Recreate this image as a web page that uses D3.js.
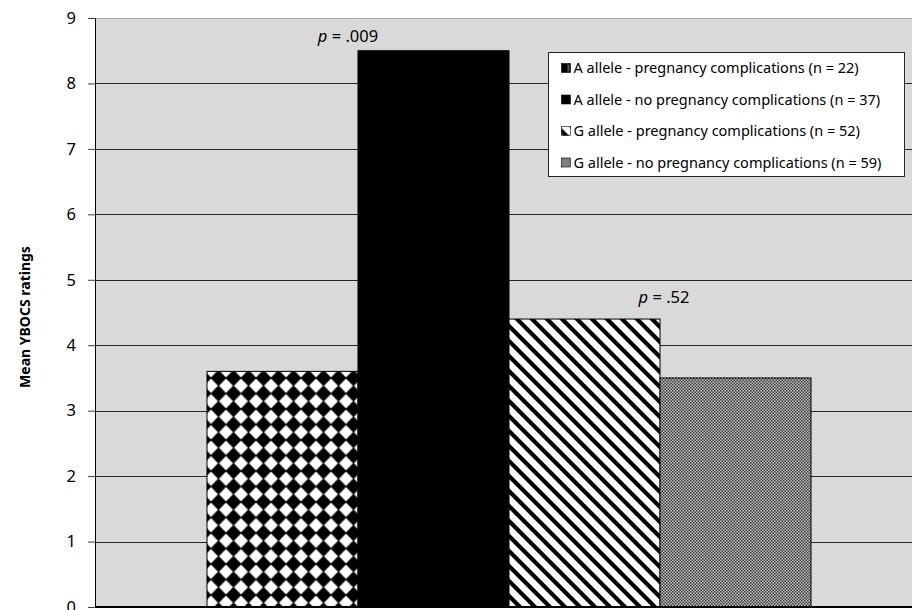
<!DOCTYPE html>
<html>
<head>
<meta charset="utf-8">
<script src="https://cdn.jsdelivr.net/npm/d3@7"></script>
<style>
  body { margin: 0; background: #fff; }
  svg { display: block; font-family: "Noto Sans", "Open Sans", sans-serif; }
</style>
</head>
<body>
<div class="canvas"></div>
<script>
const series = [
  "A allele - pregnancy complications",
  "A allele - no pregnancy complications",
  "G allele - pregnancy complications",
  "G allele - no pregnancy complications"
];
const counts = [22, 37, 52, 59];
const values = [3.6, 8.5, 4.4, 3.5];
const yTicks = [0, 1, 2, 3, 4, 5, 6, 7, 8, 9];
const pLabels = [".009", ".52"];
const pPairs = [0, 2]; // the bar pair each p value sits over
const pLevels = [8.64, 4.65];

const fills = ["url(#diamonds)", "#000000", "url(#stripes)", "url(#checks)"];

const W = 912, H = 610;
const margin = { top: 18, right: 0, bottom: 3, left: 96 };
const width = W - margin.left - margin.right;
const height = H - margin.top - margin.bottom;

const svg = d3.select(".canvas").append("svg")
  .attr("width", W)
  .attr("height", H);

// patterns
const defs = svg.append("defs");

const dia = defs.append("pattern")
  .attr("id", "diamonds")
  .attr("patternUnits", "userSpaceOnUse")
  .attr("x", 212.5).attr("y", 375.5)
  .attr("width", 15).attr("height", 15.5);
dia.append("rect").attr("width", 15).attr("height", 15.5).attr("fill", "#000");
dia.append("path")
  .attr("d", "M7.5,0.5 L14.5,7.75 L7.5,15 L0.5,7.75 Z")
  .attr("fill", "#fff");

const str = defs.append("pattern")
  .attr("id", "stripes")
  .attr("patternUnits", "userSpaceOnUse")
  .attr("width", 15).attr("height", 15);
str.append("rect").attr("width", 15).attr("height", 15).attr("fill", "#fff");
str.append("path")
  .attr("d", "M-4,-4 L19,19 M-4,11 L4,19 M11,-4 L19,4")
  .attr("stroke", "#000")
  .attr("stroke-width", 4.2);

const chk = defs.append("pattern")
  .attr("id", "checks")
  .attr("patternUnits", "userSpaceOnUse")
  .attr("width", 3).attr("height", 3);
chk.append("rect").attr("width", 3).attr("height", 3).attr("fill", "#c8c8c8");
chk.append("rect").attr("width", 1.5).attr("height", 1.5).attr("fill", "#333");
chk.append("rect").attr("x", 1.5).attr("y", 1.5).attr("width", 1.5).attr("height", 1.5).attr("fill", "#333");

const chart = svg.append("g")
  .attr("transform", `translate(${margin.left}, ${margin.top})`);

const y = d3.scaleLinear().domain([0, 9]).range([height, 0]);
const x = d3.scaleBand()
  .domain(series)
  .range([0, 826])
  .paddingInner(0)
  .paddingOuter(0.735);

// plot background
chart.append("rect")
  .attr("width", width)
  .attr("height", height)
  .attr("fill", "#d9d9d9");

// gridlines
chart.append("g")
  .selectAll("line")
  .data(yTicks.filter((d) => d > 0))
  .enter()
  .append("line")
  .attr("x1", 0)
  .attr("x2", width)
  .attr("y1", (d) => Math.round(y(d)) + 0.5)
  .attr("y2", (d) => Math.round(y(d)) + 0.5)
  .attr("stroke", (d) => (d === 9 ? "#a6a6a6" : "#262626"))
  .attr("stroke-width", 1);

// bars
chart.append("g")
  .selectAll("rect")
  .data(values)
  .enter()
  .append("rect")
  .attr("x", (d, i) => x(series[i]))
  .attr("y", (d) => y(d))
  .attr("width", x.bandwidth())
  .attr("height", (d) => height - y(d))
  .attr("fill", (d, i) => fills[i])
  .attr("stroke", "#000")
  .attr("stroke-width", 1);

// y axis
const yAxis = d3.axisLeft(y).tickValues(yTicks).tickSize(8).tickPadding(12);
const ya = chart.append("g").attr("class", "axis").call(yAxis);
ya.select(".domain").attr("stroke", "#000").attr("d", `M-0.5,${height}V0`);
ya.selectAll(".tick line").attr("stroke", "#404040");
ya.selectAll("text")
  .attr("font-size", 16.5)
  .attr("fill", "#000")
  .attr("font-family", "Noto Sans, sans-serif");

// x axis line
chart.append("line")
  .attr("x1", 0).attr("x2", width)
  .attr("y1", height).attr("y2", height)
  .attr("stroke", "#000")
  .attr("stroke-width", 2);

// y title
svg.append("text")
  .attr("transform", `translate(30, 317) rotate(-90)`)
  .attr("text-anchor", "middle")
  .attr("font-size", 14)
  .attr("font-weight", "bold")
  .text("Mean YBOCS ratings");

// p values
const pText = chart.append("g")
  .selectAll("text")
  .data(pLabels)
  .enter()
  .append("text")
  .attr("x", (d, i) => x(series[pPairs[i] + 1]) + (i === 0 ? -10 : 4))
  .attr("y", (d, i) => y(pLevels[i]))
  .attr("text-anchor", "middle")
  .attr("font-size", 16.5);
pText.append("tspan").attr("font-style", "italic").text("p");
pText.append("tspan").text((d) => " = " + d);

// legend
const legend = svg.append("g")
  .attr("transform", "translate(548.5, 52.5)");
legend.append("rect")
  .attr("width", 356)
  .attr("height", 124)
  .attr("fill", "#fff")
  .attr("stroke", "#262626")
  .attr("stroke-width", 1);

const item = legend.selectAll(".item")
  .data(series)
  .enter()
  .append("g")
  .attr("class", "item")
  .attr("transform", (d, i) => `translate(13, ${15.5 + i * 31.5})`);

item.append("rect")
  .attr("y", -4.5)
  .attr("width", 9)
  .attr("height", 9)
  .attr("fill", (d, i) => (i === 0 ? "#000" : fills[i]))
  .attr("stroke", "#000")
  .attr("stroke-width", 0.6);
item.filter((d, i) => i === 0)
  .append("rect")
  .attr("x", 6).attr("y", -3.5).attr("width", 2).attr("height", 7)
  .attr("fill", "#555");

item.append("text")
  .attr("x", 12)
  .attr("dy", "0.35em")
  .attr("font-size", 14.5)
  .text((d, i) => `${d} (n = ${counts[i]})`);
</script>
</body>
</html>
